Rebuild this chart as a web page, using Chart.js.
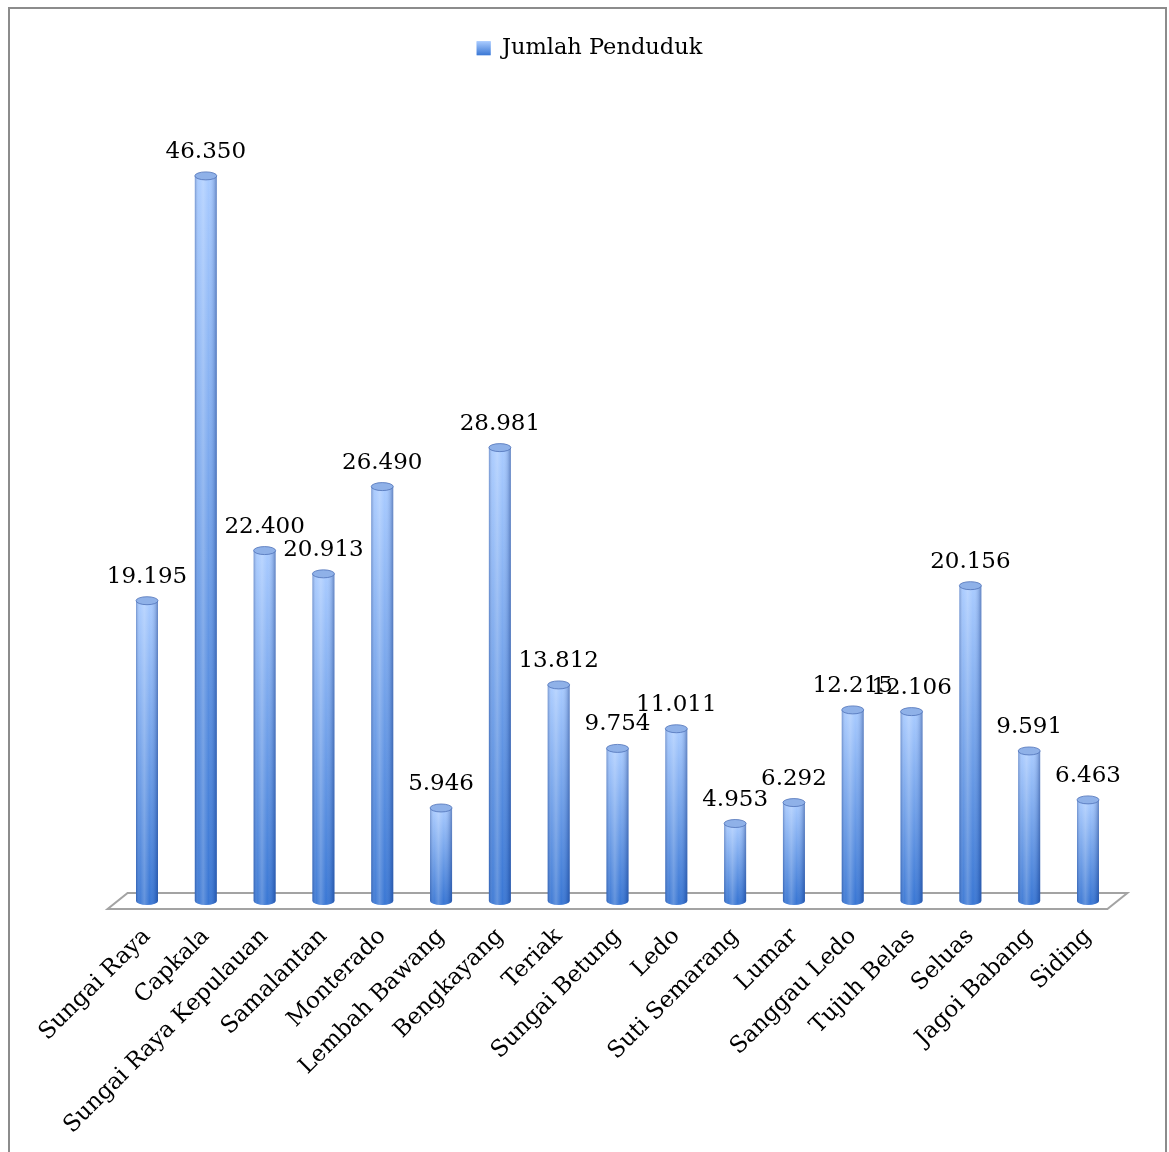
<!DOCTYPE html>
<html lang="id">
<head>
<meta charset="UTF-8">
<title>Jumlah Penduduk</title>
<script src="https://cdn.jsdelivr.net/npm/chart.js@4.4.1/dist/chart.umd.min.js"></script>
<style>
  body { margin: 0; background: #fff; }
  #wrap { width: 1169px; height: 1152px; }
</style>
</head>
<body>
<div id="wrap"><canvas id="grafik"></canvas></div>
<script>
// data per kecamatan
const kecamatan = ['Sungai Raya', 'Capkala', 'Sungai Raya Kepulauan', 'Samalantan', 'Monterado',
  'Lembah Bawang', 'Bengkayang', 'Teriak', 'Sungai Betung', 'Ledo', 'Suti Semarang', 'Lumar',
  'Sanggau Ledo', 'Tujuh Belas', 'Seluas', 'Jagoi Babang', 'Siding'];
const penduduk = [19195, 46350, 22400, 20913, 26490, 5946, 28981, 13812, 9754, 11011, 4953, 6292,
  12215, 12106, 20156, 9591, 6463];
const namaSeri = 'Jumlah Penduduk';
const sumbuMaks = 53150;

const FONT = 'DejaVu Serif';
const BIRU_MUDA = '#a9cbff';
const BIRU_TUA = '#3a77d4';

function formatAngka(v) {
  return String(v).replace(/\B(?=(\d{3})+(?!\d))/g, '.');
}

// bingkai luar + lantai 3D + silinder + label nilai
const silinder = {
  id: 'silinder',
  beforeDraw(chart) {
    const c = chart.ctx;
    c.save();
    c.strokeStyle = '#8c8c8c';
    c.lineWidth = 2;
    c.strokeRect(9, 8, 1157, 1200);
    c.restore();
  },
  beforeDatasetsDraw(chart) {
    const c = chart.ctx;
    const a = chart.chartArea;
    const base = chart.scales.y.getPixelForValue(0);
    c.save();
    c.beginPath();
    c.moveTo(a.left - 10, base + 8);
    c.lineTo(a.right - 10, base + 8);
    c.lineTo(a.right + 10, base - 8);
    c.lineTo(a.left + 10, base - 8);
    c.closePath();
    c.fillStyle = '#ffffff';
    c.fill();
    c.strokeStyle = '#a3a3a3';
    c.lineWidth = 2;
    c.stroke();
    c.restore();
  },
  afterDatasetsDraw(chart) {
    const c = chart.ctx;
    const meta = chart.getDatasetMeta(0);
    meta.data.forEach((bar, i) => {
      const { x, y, base, width } = bar.getProps(['x', 'y', 'base', 'width'], true);
      const rx = width / 2;
      const ry = 4;
      c.save();
      // dasar silinder
      c.beginPath();
      c.ellipse(x, base, rx, ry, 0, 0, Math.PI);
      c.fillStyle = BIRU_TUA;
      c.fill();
      // bayangan melingkar
      c.beginPath();
      c.rect(x - rx, y, width, base - y);
      c.ellipse(x, base, rx, ry, 0, 0, Math.PI);
      const g = c.createLinearGradient(x - rx, 0, x + rx, 0);
      g.addColorStop(0, 'rgba(20,50,120,0.35)');
      g.addColorStop(0.18, 'rgba(255,255,255,0.05)');
      g.addColorStop(0.38, 'rgba(255,255,255,0.22)');
      g.addColorStop(0.62, 'rgba(255,255,255,0.0)');
      g.addColorStop(0.88, 'rgba(20,50,120,0.18)');
      g.addColorStop(1, 'rgba(20,50,120,0.45)');
      c.fillStyle = g;
      c.fill();
      // tutup atas
      c.beginPath();
      c.ellipse(x, y, rx, ry, 0, 0, Math.PI * 2);
      c.fillStyle = '#8fb1e8';
      c.fill();
      c.strokeStyle = 'rgba(80,115,185,0.8)';
      c.lineWidth = 1;
      c.stroke();
      // label nilai
      c.fillStyle = '#000';
      c.font = '23px "' + FONT + '"';
      c.textAlign = 'center';
      c.textBaseline = 'alphabetic';
      c.fillText(formatAngka(penduduk[i]), x, y - 18);
      c.restore();
    });
  },
  afterDraw(chart) {
    // kotak legenda bergradasi
    const hb = chart.legend && chart.legend.legendHitBoxes[0];
    if (!hb) return;
    const c = chart.ctx;
    const s = 14;
    const top = hb.top + (hb.height - s) / 2;
    const g = c.createLinearGradient(0, top, 0, top + s);
    g.addColorStop(0, BIRU_MUDA);
    g.addColorStop(1, BIRU_TUA);
    c.save();
    c.fillStyle = g;
    c.fillRect(hb.left, top, s, s);
    c.restore();
  }
};

new Chart(document.getElementById('grafik'), {
  type: 'bar',
  data: {
    labels: kecamatan,
    datasets: [{
      label: namaSeri,
      data: penduduk,
      yAxisID: 'y',
      barPercentage: 0.374,
      categoryPercentage: 1,
      borderWidth: 0,
      backgroundColor(ctx) {
        const chart = ctx.chart;
        if (ctx.type !== 'data' || !chart.chartArea) return '#ffffff';
        const sy = chart.scales.y;
        const top = sy.getPixelForValue(ctx.raw);
        const base = sy.getPixelForValue(0);
        const g = chart.ctx.createLinearGradient(0, top, 0, base);
        g.addColorStop(0, BIRU_MUDA);
        g.addColorStop(1, BIRU_TUA);
        return g;
      }
    }]
  },
  options: {
    responsive: true,
    maintainAspectRatio: false,
    animation: false,
    layout: { padding: { top: 27, bottom: 0, left: 10, right: 0 } },
    plugins: {
      legend: {
        position: 'top',
        labels: {
          color: '#000',
          font: { family: FONT, size: 22.5 },
          boxWidth: 14,
          boxHeight: 14,
          padding: 10
        }
      },
      tooltip: { enabled: false }
    },
    scales: {
      x: {
        grid: { display: false, drawTicks: false },
        border: { display: false },
        ticks: {
          color: '#000',
          font: { family: FONT, size: 23 },
          minRotation: 45,
          maxRotation: 45,
          autoSkip: false,
          padding: 22
        },
        afterFit(scale) { scale.height = 251; }
      },
      y: {
        position: 'left',
        min: 0,
        max: sumbuMaks,
        grid: { display: false, drawTicks: false },
        border: { display: false },
        ticks: { display: false },
        afterFit(scale) { scale.width = 107.6; }
      },
      y2: {
        position: 'right',
        grid: { display: false, drawTicks: false },
        border: { display: false },
        ticks: { display: false },
        afterFit(scale) { scale.width = 51.6; }
      }
    }
  },
  plugins: [silinder]
});
</script>
</body>
</html>
